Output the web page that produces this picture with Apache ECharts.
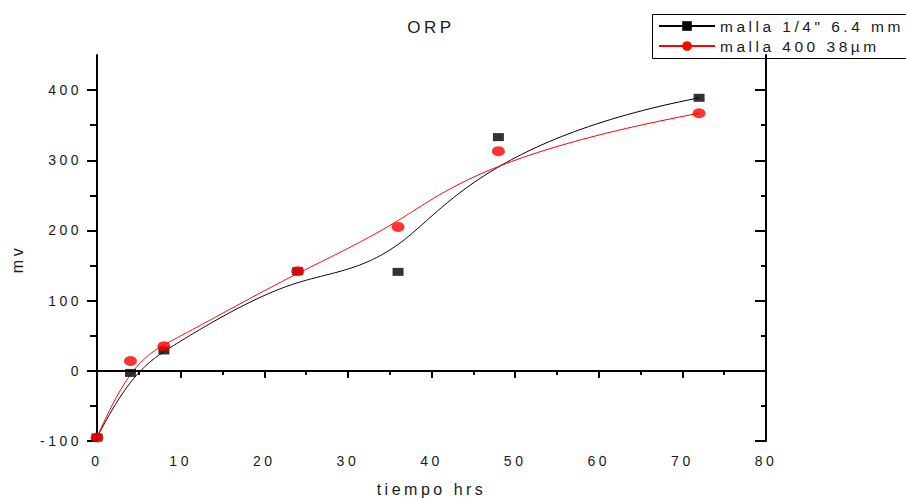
<!DOCTYPE html>
<html>
<head>
<meta charset="utf-8">
<script src="https://cdn.jsdelivr.net/npm/echarts@6/dist/echarts.min.js"></script>
<style>
  html, body { margin: 0; padding: 0; background: #fff; }
  /* Origin-style wide tracking on every text element of the SVG output */
  #chart { width: 906px; height: 498px; letter-spacing: 3.5px; }
</style>
</head>
<body>
<div id="chart"></div>
<script>
// Sampling times (hours) and ORP readings (mV) for the two mesh sizes
const hours = [0, 4, 8, 24, 36, 48, 72];
const orpMalla14 = [-95, -3, 29, 142, 141, 333, 389];
const orpMalla400 = [-95, 14, 35, 142, 205, 313, 367];
const seriesNames = ['malla 1/4" 6.4 mm', 'malla 400 38µm'];

// Axis tick positions
const yMajorTicks = [-100, 0, 100, 200, 300, 400];
const yMinorTicks = [-50, 50, 150, 250, 350];

const FONT = '"Liberation Sans", Arial, Helvetica, sans-serif';
const TEXT = '#1a1a1a';

// Clamped cubic B-spline using the measured points as control points
function bSpline(xs, ys, samples) {
  const n = xs.length, p = 3;
  const knots = [];
  for (let i = 0; i <= p; i++) knots.push(0);
  for (let i = 1; i < n - p; i++) knots.push(i);
  for (let i = 0; i <= p; i++) knots.push(n - p);
  const tMax = n - p;
  const out = [];
  for (let s = 0; s <= samples; s++) {
    const t = tMax * s / samples;
    let k = p;
    while (k < n - 1 && t >= knots[k + 1]) k++;
    const dx = [], dy = [];
    for (let j = 0; j <= p; j++) { dx[j] = xs[j + k - p]; dy[j] = ys[j + k - p]; }
    for (let r = 1; r <= p; r++) {
      for (let j = p; j >= r; j--) {
        const i = j + k - p;
        const den = knots[i + p - r + 1] - knots[i];
        const a = den === 0 ? 0 : (t - knots[i]) / den;
        dx[j] = (1 - a) * dx[j - 1] + a * dx[j];
        dy[j] = (1 - a) * dy[j - 1] + a * dy[j];
      }
    }
    out.push([dx[p], dy[p]]);
  }
  return out;
}

const pairs = (ys) => hours.map((h, i) => [h, ys[i]]);

const chart = echarts.init(document.getElementById('chart'), null, { renderer: 'svg' });

const yBase = { type: 'value', min: -100, max: 450, splitLine: { show: false } };
const xBase = { type: 'value', min: 0, max: 80, interval: 10, splitLine: { show: false } };

chart.setOption({
  animation: false,
  backgroundColor: '#fff',
  textStyle: { fontFamily: FONT },
  title: {
    text: 'ORP',
    left: 431, top: 19, padding: 0,
    textAlign: 'center',
    textStyle: { fontSize: 17, fontWeight: 'normal', color: TEXT, fontFamily: FONT }
  },
  legend: {
    orient: 'vertical',
    left: 658, top: 18, padding: 0,
    itemWidth: 56, itemHeight: 12, itemGap: 4,
    data: seriesNames,
    textStyle: { fontSize: 15.5, lineHeight: 16, color: TEXT, fontFamily: FONT }
  },
  graphic: [{
    type: 'rect', silent: true, z: 100,
    shape: { x: 652.5, y: 14.5, width: 300, height: 44 },
    style: { fill: null, stroke: '#000', lineWidth: 1 }
  }],
  grid: { left: 97, right: 140, top: 55, bottom: 57, outerBoundsMode: 'none' },
  xAxis: [
    Object.assign({}, xBase, {
      position: 'bottom',
      name: 'tiempo hrs', nameLocation: 'middle', nameGap: 40,
      nameTextStyle: { fontSize: 16, color: TEXT, fontFamily: FONT },
      axisLine: { lineStyle: { color: '#000', width: 2 } },
      axisTick: { length: 7, lineStyle: { color: '#000', width: 2 } },
      minorTick: { show: true, splitNumber: 2, length: 4, lineStyle: { color: '#000', width: 2 } },
      axisLabel: { margin: 13, fontSize: 14, color: TEXT, fontFamily: FONT }
    }),
    Object.assign({}, xBase, {
      position: 'top',
      axisLine: { lineStyle: { color: '#000', width: 1 } },
      axisTick: { inside: true, length: 7, lineStyle: { color: '#000', width: 2 } },
      minorTick: { show: true, splitNumber: 2, length: 4, lineStyle: { color: '#000', width: 2 } },
      axisLabel: { show: false }
    })
  ],
  yAxis: [
    Object.assign({}, yBase, {
      position: 'left',
      name: 'mv', nameLocation: 'middle', nameGap: 72,
      nameTextStyle: { fontSize: 16, color: TEXT, fontFamily: FONT, padding: [0, 22, 0, 0] },
      axisLine: { lineStyle: { color: '#000', width: 2 } },
      axisTick: { customValues: yMajorTicks, length: 10, lineStyle: { color: '#000', width: 2 } },
      axisLabel: { customValues: yMajorTicks, margin: 15, fontSize: 14, color: TEXT, fontFamily: FONT }
    }),
    Object.assign({}, yBase, {
      position: 'left',
      axisLine: { show: false },
      axisTick: { customValues: yMinorTicks, length: 7, lineStyle: { color: '#000', width: 2 } },
      axisLabel: { show: false }
    }),
    Object.assign({}, yBase, {
      position: 'right',
      axisLine: { show: true, lineStyle: { color: '#000', width: 2 } },
      axisTick: { inside: true, customValues: yMajorTicks, length: 11, lineStyle: { color: '#000', width: 2 } },
      axisLabel: { show: false }
    }),
    Object.assign({}, yBase, {
      position: 'right',
      axisLine: { show: false },
      axisTick: { inside: true, customValues: yMinorTicks, length: 5, lineStyle: { color: '#000', width: 2 } },
      axisLabel: { show: false }
    })
  ],
  series: [
    {
      name: seriesNames[0], type: 'line', data: bSpline(hours, orpMalla14, 240),
      showSymbol: false, symbol: 'rect', symbolSize: [11, 8],
      lineStyle: { color: '#000', width: 1 }, itemStyle: { color: '#000' },
      z: 2, silent: true
    },
    {
      name: seriesNames[1], type: 'line', data: bSpline(hours, orpMalla400, 240),
      showSymbol: false, symbol: 'circle', symbolSize: [13, 10],
      lineStyle: { color: '#ff0000', width: 1 }, itemStyle: { color: '#ff0000' },
      z: 2, silent: true
    },
    {
      name: seriesNames[0], type: 'scatter', data: pairs(orpMalla14),
      symbol: 'rect', symbolSize: [11, 8], itemStyle: { color: '#000' }, z: 3
    },
    {
      name: seriesNames[1], type: 'scatter', data: pairs(orpMalla400),
      symbol: 'circle', symbolSize: [13, 10], itemStyle: { color: '#ff0000' }, z: 4
    }
  ]
});
</script>
</body>
</html>
